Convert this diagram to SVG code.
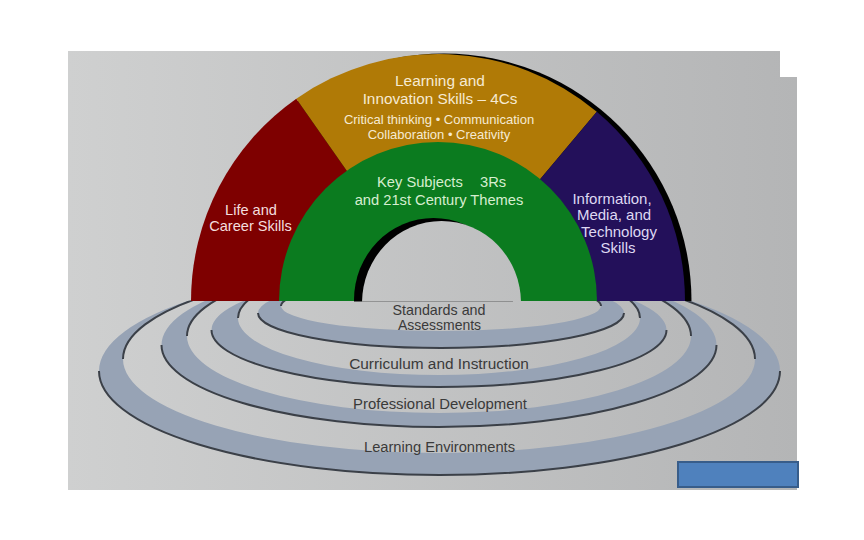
<svg xmlns="http://www.w3.org/2000/svg" width="864" height="540" viewBox="0 0 864 540">
<defs>
<linearGradient id="bg" gradientUnits="userSpaceOnUse" x1="68" y1="0" x2="797" y2="0">
<stop offset="0" stop-color="#cfd0d0"/><stop offset="1" stop-color="#b4b5b6"/>
</linearGradient>
<clipPath id="below"><rect x="0" y="300.5" width="864" height="240"/></clipPath>
<clipPath id="above"><rect x="0" y="0" width="864" height="301.5"/></clipPath>
</defs>
<style>
.band{fill:#97a3b5;fill-rule:evenodd}
.rim{fill:none;stroke:#3b4048;stroke-width:2}
.t{font-family:"Liberation Sans",Arial,sans-serif;text-anchor:middle}
.rt{fill:#3a3a3a}
.ot{fill:#f6ead2}
.redt{fill:#f3dede}
.pt{fill:#ded8f2}
.gt{fill:#d6eed0}
</style>
<rect width="864" height="540" fill="#ffffff"/>
<path id="background" d="M68,51 H780 V77 H797 V490 H68 Z" fill="url(#bg)"/>

<g id="rings" clip-path="url(#below)">
<g id="ring-learning-environments">
<path class="band" d="M99,371 A340.5,104 0 1 0 780,371 A340.5,104 0 1 0 99,371 Z M123,359 A316,94 0 1 0 755,359 A316,94 0 1 0 123,359 Z"/>
<path class="rim" d="M99,371 A340.5,104 0 0 0 780,371 M123,359 A316,94 0 0 1 755,359"/>
</g>
<g id="ring-professional-development">
<path class="band" d="M161.5,345 A277.5,82 0 1 0 716.5,345 A277.5,82 0 1 0 161.5,345 Z M187,336 A252,77 0 1 0 691,336 A252,77 0 1 0 187,336 Z"/>
<path class="rim" d="M161.5,345 A277.5,82 0 0 0 716.5,345 M187,336 A252,77 0 0 1 691,336"/>
</g>
<g id="ring-curriculum">
<path class="band" d="M211.5,330 A227.5,57 0 1 0 666.5,330 A227.5,57 0 1 0 211.5,330 Z M238,318 A201,57 0 1 0 640,318 A201,57 0 1 0 238,318 Z"/>
<path class="rim" d="M211.5,330 A227.5,57 0 0 0 666.5,330 M238,318 A201,57 0 0 1 640,318"/>
</g>
<g id="ring-standards">
<path class="band" d="M258,313 A183,35 0 1 0 624,313 A183,35 0 1 0 258,313 Z M281,306 A160,25 0 1 0 601,306 A160,25 0 1 0 281,306 Z"/>
<path class="rim" d="M258,313 A183,35 0 0 0 624,313 M281,306 A160,25 0 0 1 601,306"/>
</g>
</g>

<g id="arch" clip-path="url(#above)">
<path id="arch-shadow" d="M196.5,301 A247.5,247.5 0 0 1 691.5,301 Z" fill="#000000"/>
<g id="life-career">
<path d="M438,301 L191,301 A247,247 0 0 1 296.3,98.7 Z" fill="#7e0000"/>
</g>
<g id="learning-innovation">
<path d="M438,301 L296.3,98.7 A247,247 0 0 1 596.8,111.8 Z" fill="#b07a06"/>
</g>
<g id="information-media">
<path d="M438,301 L596.8,111.8 A247,247 0 0 1 685,301 Z" fill="#23105a"/>
</g>
<g id="key-subjects">
<path d="M279,301 A159,159 0 0 1 597,301 Z" fill="#0b7b1f"/>
<ellipse cx="433.5" cy="300" rx="79.5" ry="82" fill="#000000"/>
<ellipse cx="441.5" cy="303" rx="79.5" ry="82" fill="url(#bg)"/>
</g>
</g>

<g id="arch-labels">
<g id="label-learning-innovation" class="t ot">
<text x="440" y="86" font-size="15.4">Learning and</text>
<text x="440" y="104" font-size="15.3">Innovation Skills – 4Cs</text>
<text x="439" y="124" font-size="13">Critical thinking • Communication</text>
<text x="439" y="139" font-size="13">Collaboration • Creativity</text>
</g>
<g id="label-life-career" class="t redt" font-size="14.6">
<text x="251" y="215">Life and</text>
<text x="250.5" y="231">Career Skills</text>
</g>
<g id="label-information-media" class="t pt" font-size="15">
<text x="612" y="204">Information,</text>
<text x="614" y="220">Media, and</text>
<text x="619" y="237">Technology</text>
<text x="618" y="253">Skills</text>
</g>
<g id="label-key-subjects" class="t gt" font-size="14.7">
<text y="187" text-anchor="start"><tspan x="377">Key Subjects</tspan><tspan x="480">3Rs</tspan></text>
<text x="439" y="204.5">and 21st Century Themes</text>
</g>
</g>

<g id="ring-labels" class="t rt">
<text x="439" y="315" font-size="14.3">Standards and</text>
<text x="439.5" y="330" font-size="14">Assessments</text>
<text x="439" y="369" font-size="15.4">Curriculum and Instruction</text>
<text x="440" y="409" font-size="14.9">Professional Development</text>
<text x="439.5" y="452" font-size="14.7">Learning Environments</text>
</g>

<rect id="blue-box" x="678" y="462" width="120" height="25" fill="#4f81bd" stroke="#385d8a" stroke-width="2"/>
</svg>
